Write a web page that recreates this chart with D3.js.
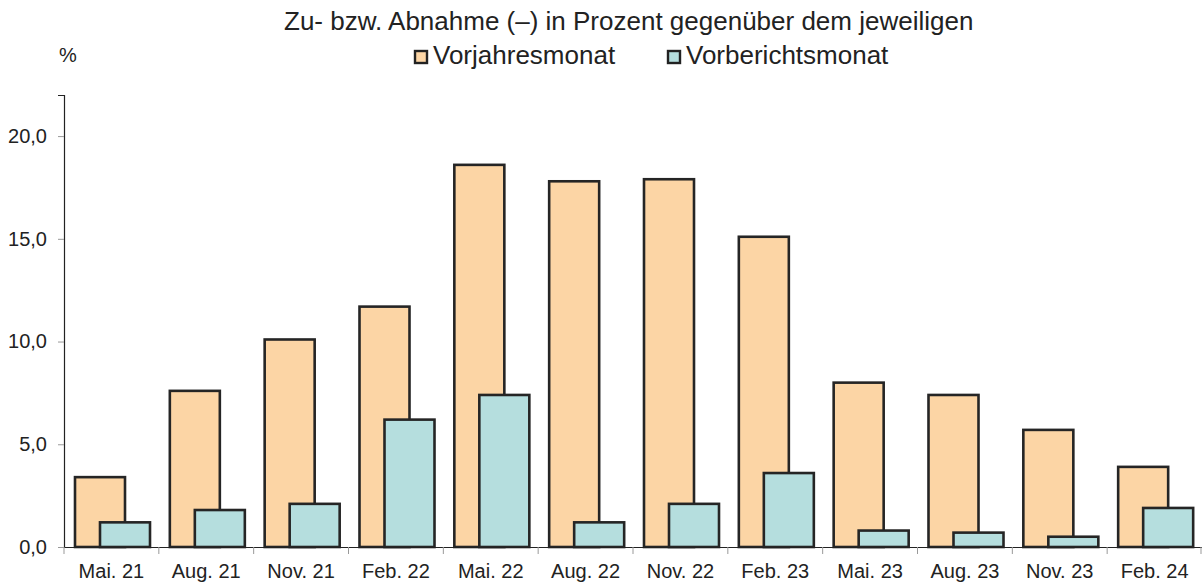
<!DOCTYPE html>
<html>
<head>
<meta charset="utf-8">
<script src="https://cdn.jsdelivr.net/npm/d3@7"></script>
<style>
  body { margin: 0; background: #fff; }
  text { font-family: "Liberation Sans", Arial, sans-serif; fill: #222; }
</style>
</head>
<body>
<svg id="chart" width="1202" height="583"></svg>
<script>
(function(){

  const months = ['Mai. 21','Aug. 21','Nov. 21','Feb. 22','Mai. 22','Aug. 22',
                  'Nov. 22','Feb. 23','Mai. 23','Aug. 23','Nov. 23','Feb. 24']
  const vorjahr = [3.4, 7.6, 10.1, 11.7, 18.6, 17.8, 17.9, 15.1, 8.0, 7.4, 5.7, 3.9]
  const vorbericht = [1.2, 1.8, 2.1, 6.2, 7.4, 1.2, 2.1, 3.6, 0.8, 0.7, 0.5, 1.9]
  const yTicks = [0, 5, 10, 15, 20]
  const seriesNames = ['Vorjahresmonat', 'Vorberichtsmonat']
  const colors = ['#fcd5a5', '#b5dede']

  const svg = d3.select('#chart')
  const font = '"Liberation Sans", Arial, sans-serif'

  const x = d3.scaleBand().domain(months).range([64, 1202]).padding(0)
  const y = d3.scaleLinear().domain([0, 22]).range([547, 95])

  const fmt = d => d3.format('.1f')(d).replace('.', ',')

  // y axis
  const yAxis = svg.append('g').attr('transform', 'translate(64,0)')
    .call(d3.axisLeft(y).tickValues(yTicks).tickSize(6).tickPadding(11).tickFormat(fmt))
  yAxis.select('.domain').attr('stroke', '#222').attr('stroke-width', 1.2)
  yAxis.selectAll('.tick line').attr('stroke', '#999')
  yAxis.selectAll('.tick text').attr('font-size', 20).attr('fill', '#222')
    .attr('font-family', font)

  // bars
  const w = 50
  svg.append('g').selectAll('rect').data(vorjahr).enter().append('rect')
    .attr('x', (d, i) => x(months[i]) + 11)
    .attr('y', d => y(d))
    .attr('width', w)
    .attr('height', d => y(0) - y(d))
    .attr('fill', colors[0]).attr('stroke', '#252525').attr('stroke-width', 2.6)

  svg.append('g').selectAll('rect').data(vorbericht).enter().append('rect')
    .attr('x', (d, i) => x(months[i]) + 36)
    .attr('y', d => y(d))
    .attr('width', w)
    .attr('height', d => y(0) - y(d))
    .attr('fill', colors[1]).attr('stroke', '#252525').attr('stroke-width', 2.6)

  // x axis
  const xAxis = svg.append('g').attr('transform', 'translate(0,547)')
    .call(d3.axisBottom(x).tickSize(0).tickPadding(17))
  xAxis.select('.domain').attr('stroke', '#222').attr('stroke-width', 1.2)
  xAxis.selectAll('.tick text').attr('font-size', 20).attr('fill', '#222')
    .attr('font-family', font)
  xAxis.selectAll('.sep').data(months.concat(['end'])).enter().append('line')
    .attr('x1', (d, i) => i < months.length ? x(d) : x.range()[1] - 1)
    .attr('x2', (d, i) => i < months.length ? x(d) : x.range()[1] - 1)
    .attr('y1', 0).attr('y2', 7)
    .attr('stroke', '#999').attr('stroke-width', 1)

  // title and legend
  svg.append('text').attr('x', 284).attr('y', 30)
    .attr('font-size', 26).text('Zu- bzw. Abnahme (–) in Prozent gegenüber dem jeweiligen')
  svg.append('text').attr('x', 59).attr('y', 62).attr('font-size', 20).text('%')

  const legendX = [414, 667]
  seriesNames.forEach((name, i) => {
    svg.append('rect').attr('x', legendX[i] + 1).attr('y', 51).attr('width', 12).attr('height', 12)
      .attr('fill', colors[i]).attr('stroke', '#222').attr('stroke-width', 2.4)
    svg.append('text').attr('x', legendX[i] + 19).attr('y', 64).attr('font-size', 26).text(name)
  })

})()
</script>
</body>
</html>
